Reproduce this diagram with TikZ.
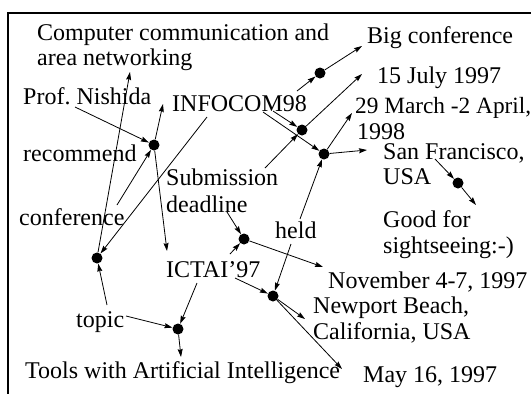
\documentclass[tikz,border=0pt]{standalone}
\usepackage{fontspec}
\setmainfont{Liberation Serif}
\usetikzlibrary{arrows.meta}
\frenchspacing
\begin{document}
\begin{tikzpicture}[x=1pt,y=-1pt,
  lbl/.style={anchor=base west,inner sep=0pt,font=\fontsize{24}{26}\selectfont},
  dot/.style={circle,fill=black,inner sep=0pt,minimum size=11pt},
  link/.style={line width=0.8pt,-{Stealth[length=8pt,width=5pt,inset=1pt]}},
  frameline/.style={line width=2pt}]
\useasboundingbox (0,0) rectangle (531,394);
% frame
\coordinate (fb) at (8,394);
\coordinate (fc) at (8,13);
\coordinate (fr) at (531,13);
\draw[frameline] (fb) -- (fc) -- (fr);
% texts
\node[lbl] (comp1) at (37,40) {Computer communication and};
\node[lbl] (comp2) at (37,65) {area networking};
\node[lbl] (prof) at (23,104) {Prof. Nishida};
\node[lbl] (infocom) at (172,111) {INFOCOM98};
\node[lbl] (recommend) at (23,161) {recommend};
\node[lbl] (conf) at (19,225) {conference};
\node[lbl] (sub1) at (166,185) {Submission};
\node[lbl] (sub2) at (166,212) {deadline};
\node[lbl] (ictai) at (166,277) {ICTAI’97};
\node[lbl] (topic) at (76,327) {topic};
\node[lbl] (tools) at (25,378) {Tools with Artificial Intelligence};
\node[lbl] (held) at (275,238) {held};
\node[lbl] (big) at (367,43) {Big conference};
\node[lbl] (july) at (377,83) {15 July 1997};
\node[lbl,font=\fontsize{23.3}{26}\selectfont] (march1) at (355,113) {29 March -2 April,};
\node[lbl] (march2) at (357,139) {1998};
\node[lbl] (sf1) at (383,159) {San Francisco,};
\node[lbl] (sf2) at (383,184) {USA};
\node[lbl] (good1) at (383,227) {Good for};
\node[lbl] (good2) at (383,253) {sightseeing:-)};
\node[lbl] (nov) at (328,288) {November 4-7, 1997};
\node[lbl] (newport1) at (313,313) {Newport Beach,};
\node[lbl] (newport2) at (313,339) {California, USA};
\node[lbl] (may) at (363,382) {May 16, 1997};
% dots
\node[dot] (dA) at (154,145) {};
\node[dot] (dB) at (97,258) {};
\node[dot] (d1) at (320,73) {};
\node[dot] (d2) at (302,130) {};
\node[dot] (d3) at (324,154) {};
\node[dot] (d4) at (458,183) {};
\node[dot] (dC) at (244,239) {};
\node[dot] (dD) at (273,296) {};
\node[dot] (dE) at (178,329) {};
% connector ends near texts
\coordinate (pProf) at (75,107);
\coordinate (pConf) at (117,205);
\coordinate (tInf) at (163,104);
\coordinate (tIct) at (167,251);
\coordinate (tNet) at (130,72);
\coordinate (pTop1) at (107,305);
\coordinate (pTop2) at (126,316);
\coordinate (pInf1) at (207,117);
\coordinate (pInf2) at (297,91);
\coordinate (pInf3) at (273,111);
\coordinate (pInf4) at (263,112);
\coordinate (tBig) at (362,46);
\coordinate (pSub) at (265,168);
\coordinate (tJuly) at (362,74);
\coordinate (tMarch) at (352,113);
\coordinate (tSF) at (367,150);
\coordinate (pHeld1) at (300,219);
\coordinate (pHeld2) at (291,244);
\coordinate (pDead) at (227,212);
\coordinate (pIct1) at (230,254);
\coordinate (pIct2) at (235,278);
\coordinate (pIct3) at (197,283);
\coordinate (tNov) at (323,267);
\coordinate (tNew) at (305,319);
\coordinate (tMay) at (342,369);
\coordinate (tTools) at (181,357);
\coordinate (pSF) at (435,159);
\coordinate (tGood) at (476,205);
% connectors
\draw[link] (pProf) -- (dA);
\draw[link] (pConf) -- (dA);
\draw[link] (dA) -- (tInf);
\draw[link] (dA) -- (tIct);
\draw[link] (dB) -- (tNet);
\draw[link] (pTop1) -- (dB);
\draw[link] (pInf1) -- (dB);
\draw[link] (pInf2) -- (d1);
\draw[link] (d1) -- (tBig);
\draw[link] (pInf3) -- (d2);
\draw[link] (pSub) -- (d2);
\draw[link] (d2) -- (tJuly);
\draw[link] (pInf4) -- (d3);
\draw[link] (d3) -- (tMarch);
\draw[link] (d3) -- (tSF);
\draw[link] (pHeld1) -- (d3);
\draw[link] (pHeld2) -- (dD);
\draw[link] (pDead) -- (dC);
\draw[link] (pIct1) -- (dC);
\draw[link] (dC) -- (tNov);
\draw[link] (pIct2) -- (dD);
\draw[link] (dD) -- (tNew);
\draw[link] (dD) -- (tMay);
\draw[link] (pTop2) -- (dE);
\draw[link] (pIct3) -- (dE);
\draw[link] (dE) -- (tTools);
\draw[link] (pSF) -- (d4);
\draw[link] (d4) -- (tGood);
\end{tikzpicture}
\end{document}
